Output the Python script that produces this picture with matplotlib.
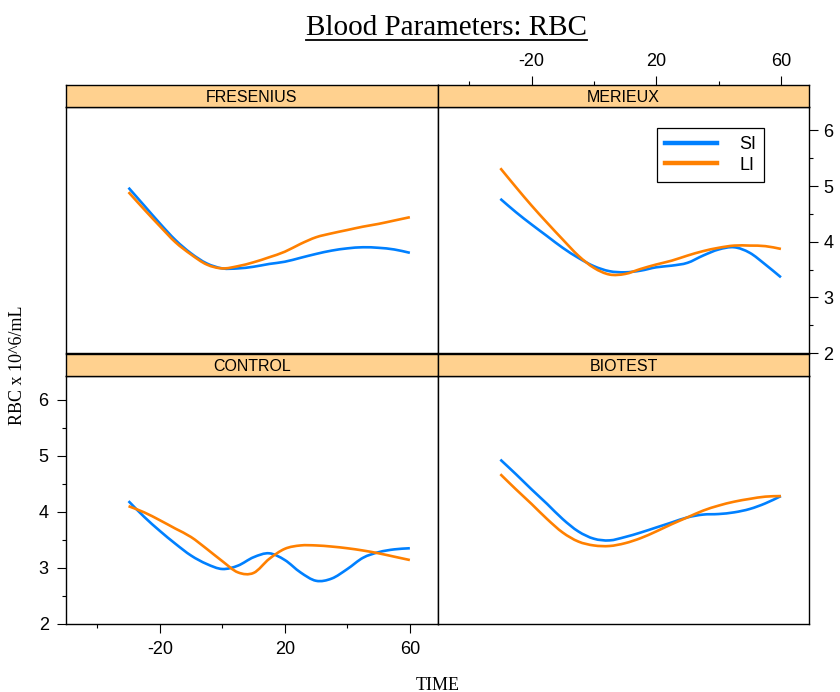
import numpy as np
import matplotlib
matplotlib.use("Agg")
import matplotlib.pyplot as plt
from matplotlib.lines import Line2D
from matplotlib.path import Path
from matplotlib.patches import PathPatch

plt.rcParams["axes.unicode_minus"] = False

# data (smoothed curves, every 5 time units)
time = [-30, -25, -20, -15, -10, -5, 0, 5, 10, 15, 20, 25, 30, 35, 40, 45, 50, 55, 60]

fresenius_si = [4.97, 4.65, 4.33, 4.03, 3.79, 3.61, 3.52, 3.52, 3.55, 3.60, 3.64, 3.71, 3.78, 3.84, 3.88, 3.90, 3.89, 3.86, 3.80]
fresenius_li = [4.89, 4.58, 4.28, 3.99, 3.77, 3.59, 3.52, 3.56, 3.63, 3.72, 3.82, 3.96, 4.08, 4.15, 4.21, 4.27, 4.32, 4.38, 4.44]
merieux_si = [4.77, 4.53, 4.31, 4.10, 3.89, 3.71, 3.56, 3.47, 3.45, 3.48, 3.54, 3.57, 3.62, 3.75, 3.86, 3.90, 3.80, 3.59, 3.36]
merieux_li = [5.32, 4.98, 4.65, 4.34, 4.04, 3.75, 3.53, 3.41, 3.42, 3.51, 3.59, 3.66, 3.75, 3.83, 3.89, 3.93, 3.93, 3.92, 3.87]
control_si = [4.19, 3.91, 3.66, 3.43, 3.22, 3.07, 2.98, 3.04, 3.19, 3.26, 3.14, 2.92, 2.77, 2.81, 2.98, 3.18, 3.28, 3.33, 3.35]
control_li = [4.10, 3.99, 3.85, 3.70, 3.55, 3.34, 3.12, 2.92, 2.91, 3.16, 3.34, 3.40, 3.40, 3.38, 3.35, 3.31, 3.26, 3.20, 3.14]
biotest_si = [4.93, 4.67, 4.40, 4.14, 3.87, 3.65, 3.52, 3.49, 3.55, 3.63, 3.72, 3.81, 3.90, 3.95, 3.96, 3.99, 4.05, 4.15, 4.28]
biotest_li = [4.67, 4.40, 4.14, 3.87, 3.63, 3.47, 3.40, 3.39, 3.44, 3.53, 3.65, 3.78, 3.90, 4.02, 4.11, 4.18, 4.23, 4.27, 4.28]

groups = ["FRESENIUS", "MERIEUX", "CONTROL", "BIOTEST"]
si_series = [fresenius_si, merieux_si, control_si, biotest_si]
li_series = [fresenius_li, merieux_li, control_li, biotest_li]
series_names = ["SI", "LI"]

x_major = [-20, 20, 60]
x_minor = [-40, 0, 40]
y_major = [2, 3, 4, 5, 6]
y_minor = [2.5, 3.5, 4.5, 5.5]

blue = "#0080ff"
orange = "#ff8000"
strip_col = "#ffd18f"
sans = "Liberation Sans"
serif = "Liberation Serif"

W, H = 840, 692
fig = plt.figure(figsize=(W / 100, H / 100), dpi=100)

# panel boxes in pixels: (left, top, right, bottom)
boxes = {
    "FRESENIUS": (66, 107, 438, 353),
    "MERIEUX": (438, 107, 809, 353),
    "CONTROL": (66, 376, 438, 624),
    "BIOTEST": (438, 376, 809, 624),
}
strip_h = 22


def frac(l, t, r, b):
    return [l / W, 1 - b / H, (r - l) / W, (b - t) / H]


def smooth_line(ax, x, y, color):
    # curve through the points (Catmull-Rom drawn as cubic Bezier segments)
    p = np.column_stack([x, y]).astype(float)
    m = np.zeros_like(p)
    m[1:-1] = (p[2:] - p[:-2]) / 2
    m[0] = p[1] - p[0]
    m[-1] = p[-1] - p[-2]
    verts = [p[0]]
    codes = [Path.MOVETO]
    for i in range(len(p) - 1):
        verts += [p[i] + m[i] / 3, p[i + 1] - m[i + 1] / 3, p[i + 1]]
        codes += [Path.CURVE4] * 3
    ax.add_patch(PathPatch(Path(verts, codes), fill=False, edgecolor=color,
                           lw=1.9, capstyle="butt", joinstyle="round"))


def style_ticks(ax):
    ax.set_xticks(x_major)
    ax.set_xticks(x_minor, minor=True)
    ax.tick_params(which="both", bottom=False, top=False, left=False, right=False,
                   labelbottom=False, labeltop=False, labelleft=False, labelright=False)
    ax.tick_params(which="major", length=6.5, width=0.8, labelsize=13)
    ax.tick_params(which="minor", length=3.2, width=0.8)


axes = {}
strips = {}
for name, si, li in zip(groups, si_series, li_series):
    l, t, r, b = boxes[name]
    ax = fig.add_axes(frac(l, t, r, b))
    smooth_line(ax, time, si, blue)
    smooth_line(ax, time, li, orange)
    ax.set_xlim(-50, 69)
    ax.set_ylim(2, 6.42)
    for s in ax.spines.values():
        s.set_linewidth(1.0)
    style_ticks(ax)
    ax.set_yticks(y_major)
    ax.set_yticks(y_minor, minor=True)

    # strip
    sax = fig.add_axes(frac(l, t - strip_h, r, t))
    sax.set_facecolor(strip_col)
    sax.set_xlim(-50, 69)
    style_ticks(sax)
    sax.set_yticks([])
    for s in sax.spines.values():
        s.set_linewidth(1.0)
    sax.text(0.5, 0.45, name, ha="center", va="center", fontsize=11.5,
             family=sans, transform=sax.transAxes)
    axes[name] = ax
    strips[name] = sax

# lattice-style alternating axes
axes["CONTROL"].tick_params(which="both", bottom=True, left=True)
axes["CONTROL"].tick_params(which="major", labelbottom=True, labelleft=True, pad=6)
axes["MERIEUX"].tick_params(which="both", right=True)
axes["MERIEUX"].tick_params(which="major", labelright=True, pad=4)
strips["MERIEUX"].tick_params(which="both", top=True)
strips["MERIEUX"].tick_params(which="major", labeltop=True, pad=4)
for a in list(axes.values()) + list(strips.values()):
    for lab in a.get_xticklabels() + a.get_yticklabels():
        lab.set_fontfamily(sans)

handles = [Line2D([], [], color=blue, lw=3.2), Line2D([], [], color=orange, lw=3.2)]
leg = axes["MERIEUX"].legend(handles, series_names, loc="upper left",
                             bbox_to_anchor=(0.59, 0.915), borderaxespad=0,
                             fancybox=False, framealpha=1, edgecolor="black",
                             prop={"family": sans, "size": 13},
                             handlelength=2.9, handletextpad=1.2,
                             labelspacing=0.2, borderpad=0.45)
leg.get_frame().set_linewidth(0.9)

# title with underline
title = fig.text(446.5 / W, 1 - 35 / H, "Blood Parameters: RBC", ha="center",
                 va="baseline", fontsize=21, family=serif)
fig.canvas.draw()
bb = title.get_window_extent()
y_ul = 1 - 40 / H
fig.add_artist(Line2D([bb.x0 / W, bb.x1 / W], [y_ul, y_ul], color="black", lw=1.3))

fig.text(438 / W, 1 - 685 / H, "TIME", ha="center", va="center", fontsize=13, family=serif)
fig.text(18 / W, 1 - 365 / H, "RBC x 10^6/mL", ha="center", va="center",
         rotation=90, fontsize=13, family=serif)

fig.savefig("out.png", dpi=100)
